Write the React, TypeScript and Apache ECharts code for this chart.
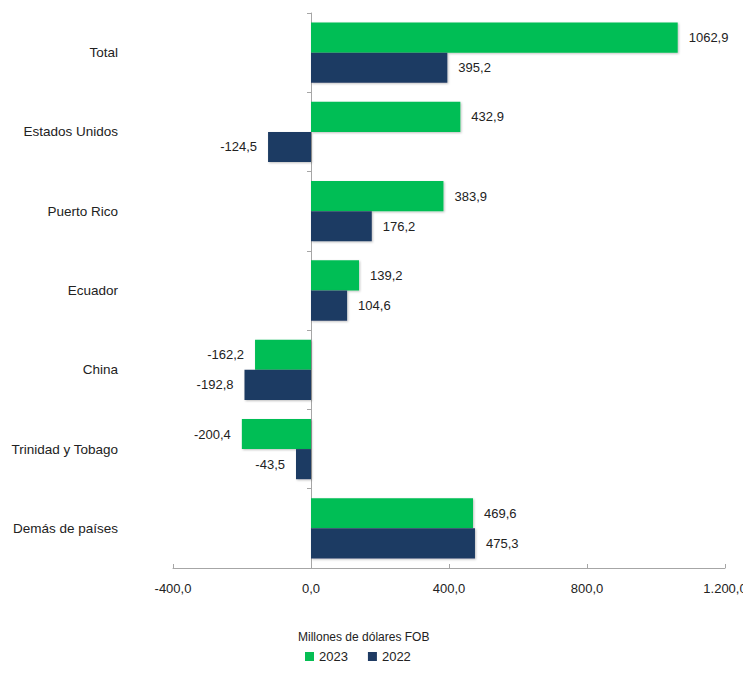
import React, { useEffect, useRef } from "react";
import * as echarts from "echarts";

const categories = [
  "Total",
  "Estados Unidos",
  "Puerto Rico",
  "Ecuador",
  "China",
  "Trinidad y Tobago",
  "Demás de países",
];
const values2023 = [1062.9, 432.9, 383.9, 139.2, -162.2, -200.4, 469.6];
const values2022 = [395.2, -124.5, 176.2, 104.6, -192.8, -43.5, 475.3];
const seriesNames = ["2023", "2022"];
const xTicks = { min: -400, max: 1200, interval: 400 };

const FONT = "'Liberation Sans', 'Open Sans', sans-serif";
const TEXT = "#222";

function fmtVal(v: number) {
  return v.toFixed(1).replace(".", ",");
}
function fmtAxis(v: number) {
  const s = Math.abs(v).toFixed(1).split(".");
  const int = s[0].replace(/\B(?=(\d{3})+(?!\d))/g, ".");
  return (v < 0 ? "-" : "") + int + "," + s[1];
}

function buildData(vals: number[]) {
  return vals.map((v) => ({
    value: v,
    label: { position: v < 0 ? "left" : "right" },
  }));
}

export default function App() {
  const ref = useRef<HTMLDivElement>(null);
  useEffect(() => {
    if (!ref.current) return;
    const chart = echarts.init(ref.current, undefined, { renderer: "svg" });
    const barLabel = {
      show: true,
      formatter: (p: any) => fmtVal(p.value),
      fontFamily: FONT,
      fontSize: 13,
      color: TEXT,
      distance: 11,
    };
    chart.setOption({
      animation: false,
      textStyle: { fontFamily: FONT },
      grid: {
        left: 165,
        right: 26,
        top: 5,
        bottom: 112,
        containLabel: false,
        outerBoundsMode: "none",
      },
      xAxis: {
        type: "value",
        min: xTicks.min,
        max: xTicks.max,
        interval: xTicks.interval,
        splitLine: { show: false },
        axisLine: { show: true, onZero: false, lineStyle: { color: "#A6A6A6" } },
        axisTick: { show: true, inside: true, length: 4, lineStyle: { color: "#A6A6A6" } },
        axisLabel: {
          formatter: (v: number) => fmtAxis(v),
          fontFamily: FONT,
          fontSize: 13,
          color: TEXT,
          margin: 14,
          hideOverlap: false,
        },
      },
      yAxis: [
        {
          type: "category",
          data: categories,
          inverse: true,
          axisLine: { show: true, onZero: true, lineStyle: { color: "#A6A6A6" } },
          axisTick: { show: true, length: 4, lineStyle: { color: "#A6A6A6" } },
          axisLabel: { show: false },
        },
        {
          type: "category",
          data: categories,
          inverse: true,
          position: "left",
          axisLine: { show: false, onZero: false },
          axisTick: { show: false },
          axisLabel: {
            show: true,
            fontFamily: FONT,
            fontSize: 13.5,
            color: TEXT,
            margin: 55,
          },
        },
      ],
      legend: {
        data: seriesNames,
        left: 292,
        top: 637,
        itemWidth: 9,
        itemHeight: 9,
        itemGap: 20,
        icon: "rect",
        textStyle: { fontFamily: FONT, fontSize: 13, color: TEXT },
      },
      graphic: [
        {
          type: "text",
          left: 290,
          top: 623,
          style: {
            text: "Millones de dólares FOB",
            fontFamily: FONT,
            fontSize: 12,
            fill: TEXT,
          },
        },
      ],
      series: [
        {
          name: seriesNames[0],
          type: "bar",
          yAxisIndex: 0,
          data: buildData(values2023),
          barGap: "0%",
          barCategoryGap: "24%",
          itemStyle: {
            color: "#06BE54",
            shadowColor: "rgba(0,0,0,0.25)",
            shadowBlur: 2,
            shadowOffsetX: 1,
            shadowOffsetY: 1,
          },
          label: barLabel,
        },
        {
          name: seriesNames[1],
          type: "bar",
          yAxisIndex: 0,
          data: buildData(values2022),
          barGap: "0%",
          barCategoryGap: "24%",
          itemStyle: {
            color: "#1F3B63",
            shadowColor: "rgba(0,0,0,0.25)",
            shadowBlur: 2,
            shadowOffsetX: 1,
            shadowOffsetY: 1,
          },
          label: barLabel,
        },
      ],
    });
    return () => chart.dispose();
  }, []);
  return <div ref={ref} style={{ width: 743, height: 672 }} />;
}
